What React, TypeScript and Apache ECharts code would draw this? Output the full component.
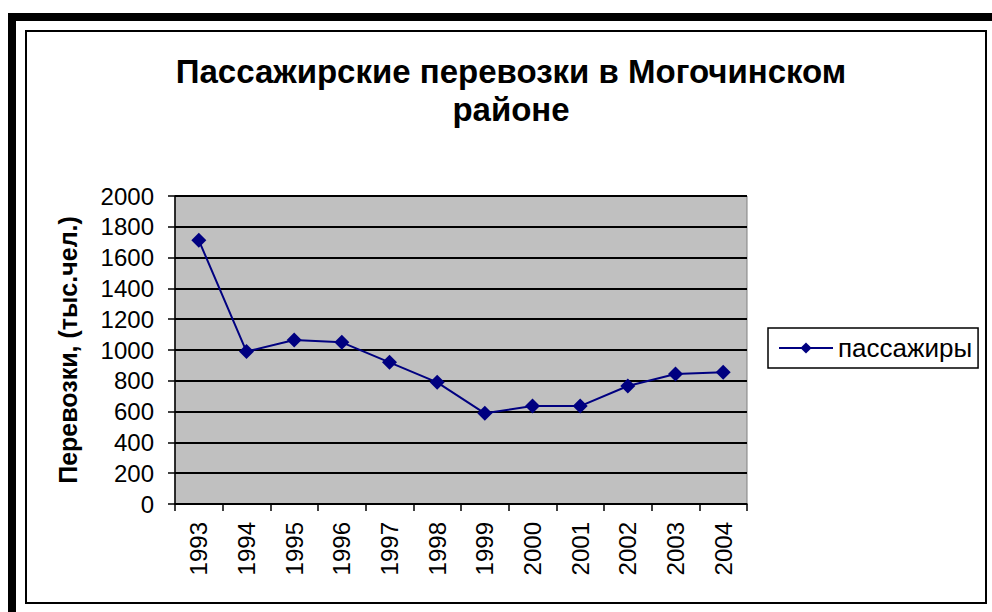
import React, { useEffect, useRef } from "react";
import * as echarts from "echarts";

const titleText = "Пассажирские перевозки в Могочинском\nрайоне";
const yAxisName = "Перевозки, (тыс.чел.)";
const seriesName = "пассажиры";
const years = ["1993", "1994", "1995", "1996", "1997", "1998", "1999", "2000", "2001", "2002", "2003", "2004"];
const passengers = [1712, 990, 1065, 1050, 920, 790, 589, 636, 636, 766, 844, 855];

export default function App() {
  const ref = useRef<HTMLDivElement>(null);
  useEffect(() => {
    if (!ref.current) return;
    const chart = echarts.init(ref.current, undefined, { renderer: "svg" });
    const font = "Liberation Sans, Arial, sans-serif";
    chart.setOption({
      animation: false,
      backgroundColor: "#ffffff",
      textStyle: { fontFamily: font },
      title: {
        text: titleText,
        left: 506,
        top: 47,
        textAlign: "center",
        textStyle: { fontFamily: font, fontSize: 33, fontWeight: "bold", color: "#000", lineHeight: 38 },
      },
      graphic: [
        { type: "rect", silent: true, shape: { x: 12, y: 17, width: 1000, height: 700 }, style: { fill: "none", stroke: "#000", lineWidth: 8 } },
        { type: "rect", silent: true, shape: { x: 26, y: 31, width: 960, height: 572 }, style: { fill: "none", stroke: "#000", lineWidth: 2 } },
      ],
      legend: {
        left: 768,
        top: 328,
        orient: "vertical",
        data: [seriesName],
        borderColor: "#000",
        borderWidth: 1.5,
        borderRadius: 0,
        padding: [7, 6, 7, 10],
        itemWidth: 54,
        itemHeight: 14,
        itemGap: 0,
        textStyle: { fontFamily: font, fontSize: 26, color: "#000" },
      },
      grid: {
        left: 175,
        top: 196,
        width: 572,
        height: 308,
        show: true,
        backgroundColor: "#C0C0C0",
        borderColor: "#808080",
        borderWidth: 1,
      },
      xAxis: {
        type: "category",
        data: years,
        boundaryGap: true,
        axisLine: { show: true, lineStyle: { color: "#000", width: 1.5 } },
        axisTick: { show: true, inside: false, length: 7, lineStyle: { color: "#000", width: 1.5 } },
        axisLabel: { rotate: 90, fontFamily: font, fontSize: 24, color: "#000", margin: 18 },
      },
      yAxis: {
        type: "value",
        min: 0,
        max: 2000,
        interval: 200,
        name: yAxisName,
        nameLocation: "middle",
        nameGap: 95,
        nameTextStyle: { fontFamily: font, fontSize: 25, fontWeight: "bold", color: "#000" },
        axisLine: { show: true, lineStyle: { color: "#000", width: 1.5 } },
        axisTick: { show: true, inside: false, length: 7, lineStyle: { color: "#000", width: 1.5 } },
        axisLabel: { fontFamily: font, fontSize: 24, color: "#000", margin: 21, formatter: (v: number) => String(v) },
        splitLine: { show: true, lineStyle: { color: "#000", width: 2 } },
      },
      series: [
        {
          name: seriesName,
          type: "line",
          data: passengers,
          symbol: "diamond",
          symbolSize: 15,
          itemStyle: { color: "#000080" },
          lineStyle: { color: "#000080", width: 2 },
        },
      ],
    });
    return () => chart.dispose();
  }, []);
  return <div ref={ref} style={{ position: "absolute", left: 0, top: 0, width: 992, height: 612 }} />;
}
